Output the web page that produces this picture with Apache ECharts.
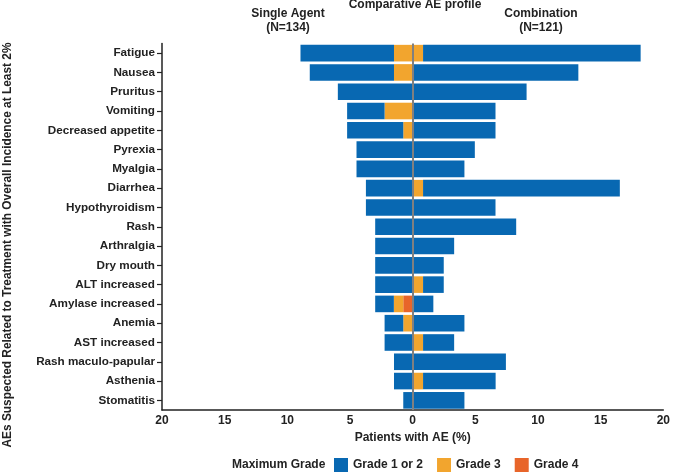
<!DOCTYPE html>
<html><head><meta charset="utf-8">
<script src="https://cdn.jsdelivr.net/npm/echarts@6/dist/echarts.min.js"></script>
<style>html,body{margin:0;padding:0;background:#fff}#c{width:673px;height:473px}</style>
</head><body><div id="c"></div>
<script>
const categories = ["Fatigue","Nausea","Pruritus","Vomiting","Decreased appetite","Pyrexia","Myalgia","Diarrhea","Hypothyroidism","Rash","Arthralgia","Dry mouth","ALT increased","Amylase increased","Anemia","AST increased","Rash maculo-papular","Asthenia","Stomatitis"];
// Single agent (N=134), % of patients
const singleG12 = [7.46,6.72,5.97,2.99,4.48,4.48,4.48,3.73,3.73,2.99,2.99,2.99,2.99,1.49,1.49,2.24,1.49,1.49,0.75];
const singleG3  = [1.49,1.49,0,2.24,0.75,0,0,0,0,0,0,0,0,0.75,0.75,0,0,0,0];
const singleG4  = [0,0,0,0,0,0,0,0,0,0,0,0,0,0.75,0,0,0,0,0];
// Combination (N=121), % of patients
const comboG12 = [17.36,13.22,9.09,6.61,6.61,4.96,4.13,15.70,6.61,8.26,3.31,2.48,1.65,1.65,4.13,2.48,7.44,5.79,4.13];
const comboG3  = [0.83,0,0,0,0,0,0,0.83,0,0,0,0,0.83,0,0,0.83,0,0.83,0];
const comboG4  = [0,0,0,0,0,0,0,0,0,0,0,0,0,0,0,0,0,0,0];
const xTicks = [-20,-15,-10,-5,0,5,10,15,20];

const C12 = '#0868b2', C3 = '#f2a52e', C4 = '#e8652a';
const FONT = 'Liberation Sans, Arial, sans-serif';
const neg = a => a.map(v => -v);
const bw = 16.6;
function bar(name, data, color, extra) {
  return Object.assign({ name, type: 'bar', stack: 'ae', data, barWidth: bw,
    itemStyle: { color }, emphasis: { disabled: true } }, extra || {});
}
const chart = echarts.init(document.getElementById('c'), null, { renderer: 'canvas' });
chart.setOption({
  animation: false,
  textStyle: { fontFamily: FONT },
  grid: { left: 162, right: 5, top: 43.5, bottom: 63, containLabel: false },
  xAxis: {
    type: 'value', min: xTicks[0], max: xTicks[xTicks.length - 1], interval: 5,
    splitLine: { show: false },
    axisLine: { show: true, lineStyle: { color: '#222', width: 1.5 } },
    axisTick: { show: false },
    axisLabel: { formatter: v => String(Math.abs(v)), color: '#222', fontWeight: 'bold', fontSize: 12, margin: 5, fontFamily: FONT },
    name: 'Patients with AE (%)', nameLocation: 'middle', nameGap: 19,
    nameTextStyle: { color: '#222', fontWeight: 'bold', fontSize: 12, fontFamily: FONT }
  },
  yAxis: {
    type: 'category', data: categories, inverse: true,
    axisLine: { show: true, onZero: false, lineStyle: { color: '#222', width: 1.5 } },
    axisTick: { show: true, alignWithLabel: true, length: 5, lineStyle: { color: '#222', width: 1.2 } },
    axisLabel: { color: '#222', fontWeight: 'bold', fontSize: 11.7, margin: 7, fontFamily: FONT }
  },
  legend: {
    left: 334, top: 458, padding: 0, itemWidth: 14, itemHeight: 14, itemGap: 14,
    icon: 'rect', selectedMode: false,
    data: ['Grade 1 or 2', 'Grade 3', 'Grade 4'],
    textStyle: { color: '#222', fontWeight: 'bold', fontSize: 12, fontFamily: FONT, padding: [0,0,0,0] }
  },
  series: [
    bar('Grade 4', neg(singleG4), C4),
    bar('Grade 3', neg(singleG3), C3),
    bar('Grade 1 or 2', neg(singleG12), C12),
    bar('Grade 4', comboG4, C4),
    bar('Grade 3', comboG3, C3),
    bar('Grade 1 or 2', comboG12, C12, {
      markLine: { silent: true, symbol: ['none','none'], label: { show: false },
        lineStyle: { color: '#808080', width: 2, type: 'solid' }, z: 10,
        data: [{ xAxis: 0 }] }
    })
  ],
  graphic: [
    { type: 'text', style: { text: 'Comparative AE profile', x: 415, y: 5, align: 'center', verticalAlign: 'middle', font: 'bold 12px ' + FONT, fill: '#222' } },
    { type: 'text', style: { text: 'Single Agent\n(N=134)', x: 288, y: 6, align: 'center', verticalAlign: 'top', lineHeight: 14.5, font: 'bold 12px ' + FONT, fill: '#222' } },
    { type: 'text', style: { text: 'Combination\n(N=121)', x: 541, y: 6, align: 'center', verticalAlign: 'top', lineHeight: 14.5, font: 'bold 12px ' + FONT, fill: '#222' } },
    { type: 'text', x: 8, y: 245, rotation: Math.PI / 2, style: { text: 'AEs Suspected Related to Treatment with Overall Incidence at Least 2%', x: 0, y: 0, align: 'center', verticalAlign: 'middle', font: 'bold 11.9px ' + FONT, fill: '#222' } },
    { type: 'text', style: { text: 'Maximum Grade', x: 232, y: 465, align: 'left', verticalAlign: 'middle', font: 'bold 12px ' + FONT, fill: '#222' } }
  ]
});
</script></body></html>
